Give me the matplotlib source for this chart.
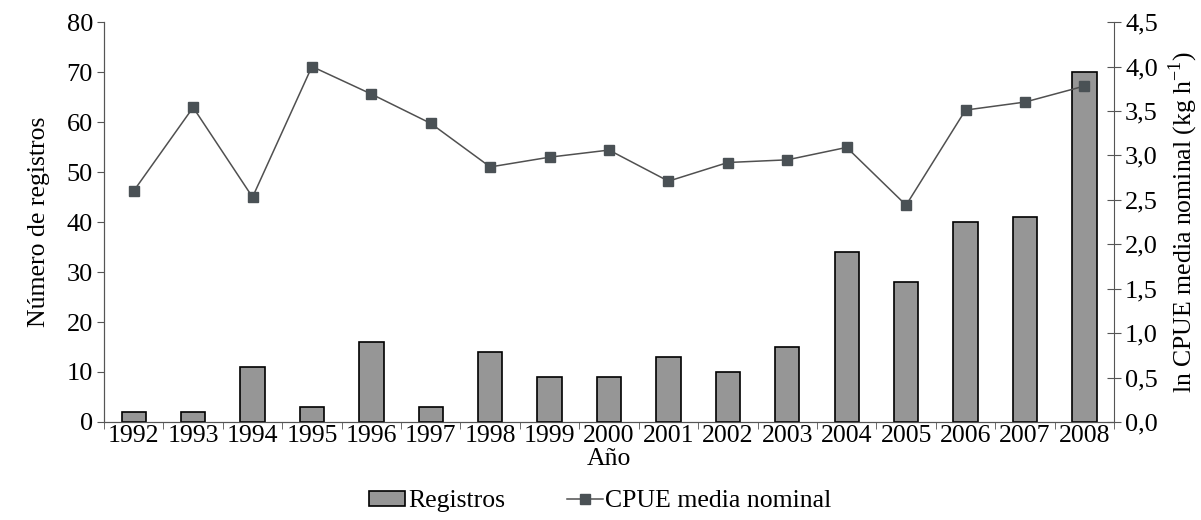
import numpy as np
import matplotlib.pyplot as plt
from matplotlib.ticker import FixedLocator

plt.rcParams['font.family'] = ['Liberation Serif', 'DejaVu Serif']
plt.rcParams['mathtext.fontset'] = 'custom'
plt.rcParams['mathtext.rm'] = 'Liberation Serif'

# datos
anios = ['1992', '1993', '1994', '1995', '1996', '1997', '1998', '1999', '2000',
         '2001', '2002', '2003', '2004', '2005', '2006', '2007', '2008']
registros = [2, 2, 11, 3, 16, 3, 14, 9, 9, 13, 10, 15, 34, 28, 40, 41, 70]
cpue = [2.60, 3.54, 2.53, 4.00, 3.69, 3.36, 2.87, 2.98, 3.06,
        2.71, 2.92, 2.95, 3.09, 2.44, 3.51, 3.60, 3.78]

x = np.arange(len(anios))

fig = plt.figure(figsize=(12.01, 5.20), dpi=100)
ax = fig.add_axes([0.0866, 0.1885, 0.841, 0.769])
ax2 = ax.twinx()

b = ax.bar(x, registros, width=0.41, color='#969696', edgecolor='black',
           linewidth=1.2, label='Registros', zorder=2)
l, = ax2.plot(x, cpue, color='#505050', linewidth=1.1, marker='s',
              markersize=7, markerfacecolor='#4a5155', markeredgecolor='#4a5155',
              label='CPUE media nominal')

ax.set_xlim(-0.5, len(anios) - 0.5)
ax.set_ylim(0, 80)
ax.set_yticks(range(0, 81, 10))
ax2.set_ylim(0, 4.5)
ax2.set_yticks(np.arange(0, 4.51, 0.5))
ax2.set_yticklabels([f'{v:.1f}'.replace('.', ',') for v in np.arange(0, 4.51, 0.5)])

ax.set_xticks(x)
ax.set_xticklabels(anios)
ax.tick_params(axis='x', length=0, labelsize=18.5, pad=2)
ax.xaxis.set_minor_locator(FixedLocator(np.arange(-0.5, len(anios), 1.0)))
ax.tick_params(axis='x', which='minor', length=5, direction='out', color='#555555')
ax.tick_params(axis='y', labelsize=19, length=5, direction='out', color='#555555', pad=3)
ax2.tick_params(axis='y', labelsize=19, length=10, direction='inout', color='#555555', pad=3)

for a in (ax, ax2):
    a.spines['top'].set_visible(False)
    for s in a.spines.values():
        s.set_color('#555555')
ax.spines['right'].set_visible(False)

ax.set_ylabel('Número de registros', fontsize=18.5, labelpad=12)
ax2.set_ylabel('ln CPUE media nominal (kg h$^{\\mathrm{-1}}$)', fontsize=18.5, labelpad=6)
ax.set_xlabel('Año', fontsize=18.5, labelpad=1)

fig.legend([b, l], ['Registros', 'CPUE media nominal'], loc='lower center',
           bbox_to_anchor=(0.5, -0.03), ncol=2, frameon=False, fontsize=18.5,
           handlelength=1.4, handleheight=0.5, handletextpad=0.1, columnspacing=2.4)

fig.savefig('out.png', dpi=100)
